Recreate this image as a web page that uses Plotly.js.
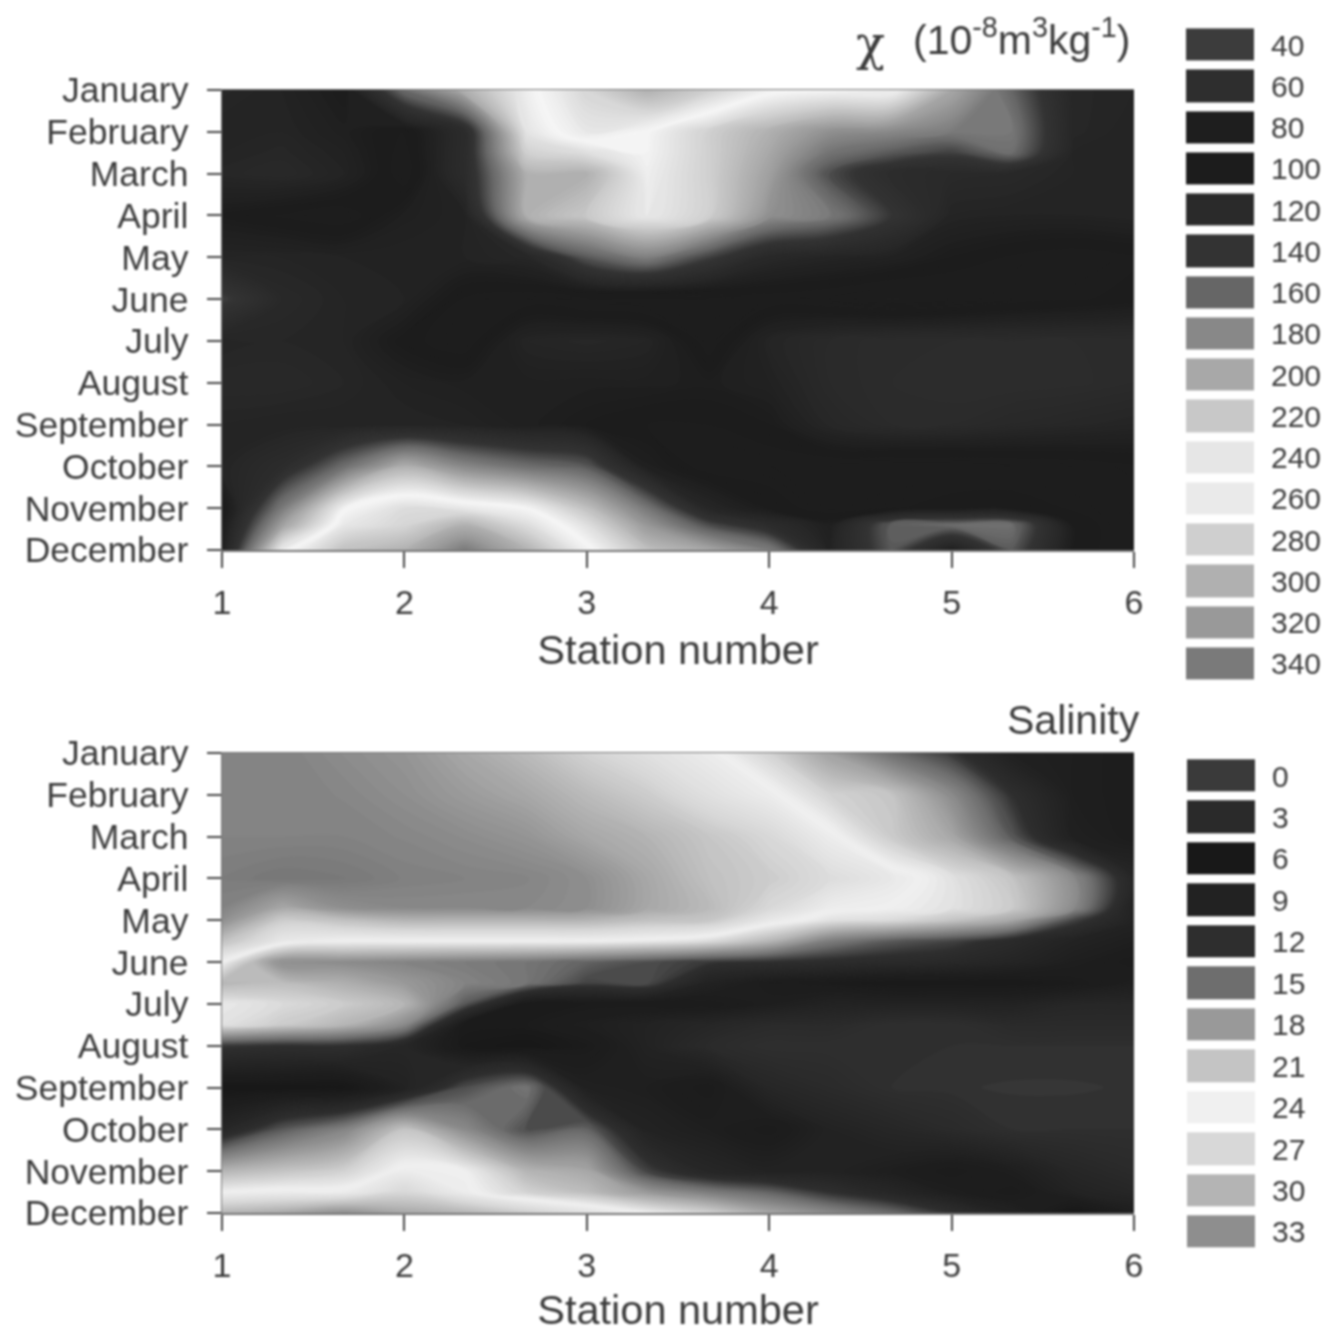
<!DOCTYPE html>
<html>
<head>
<meta charset="utf-8">
<script src="https://cdn.plot.ly/plotly-3.0.1.min.js"></script>
<style>
html,body{margin:0;padding:0;background:#fff;overflow:hidden}
#chart{width:1332px;height:1333px;filter:blur(0.8px)}
</style>
</head>
<body>
<div id="chart"></div>
<script>
const months = ['January','February','March','April','May','June','July','August','September','October','November','December'];
const monthPos = [0,1,2,3,4,5,6,7,8,9,10,11];
const stations = [1,1.33,1.67,2,2.33,2.67,3,3.33,3.67,4,4.33,4.67,5,5.33,5.67,6];

const chiY = [0,1,1.5,2,3,4,5,6,7,8,9,10,10.4,11];
const chiJan = [115,110,100,165,205,245,275,300,280,255,250,250,200,160,115,112];
const chiFeb = [110,112,105,95,125,238,262,250,225,205,185,180,172,170,115,110];
const chiFebB = [112,115,108,93,125,225,235,248,225,200,168,155,145,165,112,110];
const chiMar = [115,118,110,92,125,205,205,245,225,195,150,125,120,118,112,112];
const chiApr = [100,95,92,105,110,205,220,242,225,185,172,140,112,110,110,112];
const chiMay = [112,112,110,110,110,115,155,175,145,118,112,108,100,95,92,95];
const chiJun = [145,118,112,110,95,92,88,86,88,92,90,85,88,92,95,98];
const chiJul = [112,114,112,98,92,112,115,112,92,112,120,124,124,124,124,124];
const chiAug = [118,118,114,108,105,105,105,105,103,108,120,124,126,126,125,122];
const chiSep = [112,110,110,112,110,105,100,96,96,100,115,122,122,118,115,112];
const chiOct = [112,125,165,205,180,165,155,105,92,92,90,88,88,90,92,95];
const chiNov = [95,172,248,270,262,250,215,170,115,100,92,95,100,100,95,92];
const chiNovB = [100,195,262,275,300,270,235,190,150,125,105,158,165,165,100,90];
const chiDec = [105,245,290,300,340,300,255,215,200,175,110,155,105,155,100,90];
const chiZ = [chiJan,chiFeb,chiFebB,chiMar,chiApr,chiMay,chiJun,chiJul,chiAug,chiSep,chiOct,chiNov,chiNovB,chiDec];

const salY = [0,1,2,3,3.7,4,4.5,5,5.5,6,6.5,7,8,9,10,10.5,11];
const sal0 = [34,34,33.2,32.5,31,29.5,27.5,26,24.5,22,18.5,15,12.5,8.5,8,7.5];
const sal1 = [34,34,33.7,33,32,31,29.5,28,26,24.5,22,21,17,12,8,7.5];
const sal2 = [34,34,34,33.7,33.2,32.5,31,30,28.5,27,24.5,21.5,19,14,8.5,7.5];
const sal3 = [34.5,35,34.8,34.2,34,33.8,33,31,29,28,26.5,25,23,21,17,10];
const sal37 = [34,31,33,33.5,33.5,33.5,33,31,29.5,27,24.5,24,23,21.5,17,9];
const sal4 = [33,28,29,30,30,30,30,29,28.5,25,23,22.5,21,19,13,9];
const sal45 = [29,25,24,24,24,24,24,23.5,22.5,20,16,14,13,11,9,8];
const sal5 = [24,17,17,16.5,16,15.5,14.5,13.5,12.5,12,11.5,11,10.5,9.5,8,7];
const sal55 = [20,20.5,19.5,18,16.5,15.5,13,13.5,9,7.5,7,6.5,6.5,6.5,7,8];
const sal6 = [23.5,22.5,21.5,20,14,7,7,7,7,8,9,9,9,9,10,10];
const sal65 = [23,21.5,20,17,7,7,8,9,10,11,11,12,12,11,11,11];
const sal7 = [12.5,12,12,10,6.5,6,7,9,11,12,12,12,12,12,12,12];
const sal8 = [6,6,6,9,13.5,15.5,8.5,8,7,10,11,12,12.2,12.3,12.3,12.2];
const sal9 = [10,14,16.5,21,17,13.5,14.5,9,8,7,9,10,11,12,12,12];
const sal10 = [20,21,22,24.5,24,20,19,13,10,9,9,8,7,8,10,11];
const sal105 = [24,24.5,24.5,27,24.5,22,20.5,18,16,14.5,12,10,8,7,9,10];
const sal11 = [30,31,33,31,30,28,26,24,22,19,17,15,12,9,6,8];
const salZ = [sal0,sal1,sal2,sal3,sal37,sal4,sal45,sal5,sal55,sal6,sal65,sal7,sal8,sal9,sal10,sal105,sal11];

const chiLevels = [40,60,80,100,120,140,160,180,200,220,240,260,280,300,320,340];
const chiGrays = [60,46,30,28,42,51,102,136,168,200,230,234,207,176,153,122];
const chiPeakLevel = 250;
const chiPeakGray = 246;
const salLevels = [0,3,6,9,12,15,18,21,24,27,30,33];
const salGrays = [58,42,24,34,46,110,153,196,240,216,180,142];
const salExtraLevel = 36;
const salExtraGray = 106;

const gray = g => `rgb(${g},${g},${g})`;
const scale = (lv, gr, lo, hi) => lv.map((v,i) => [(v-lo)/(hi-lo), gray(gr[i])]);
const chiScale = scale(chiLevels, chiGrays, 40, 340);
chiScale.splice(chiLevels.indexOf(260), 0, [(chiPeakLevel-40)/300, gray(chiPeakGray)]);
const salScale = scale(salLevels.concat([salExtraLevel]), salGrays.concat([salExtraGray]), 0, 36);
const chiLegScale = scale(chiLevels, chiGrays, 40, 340);

const W = 1332, H = 1333;
const font = '"Liberation Sans", Arial, sans-serif';
const ink = '#3c3c3c';
const px = (a,b) => [a/W, b/W];
const py = (top,bot) => [1-bot/H, 1-top/H];

function contour(z, y, sc, lo, hi, size, xa, ya){
  return {type:'contour', x:stations, y:y, z:z, xaxis:xa, yaxis:ya, colorscale:sc, zmin:lo, zmax:hi, zauto:false,
    autocontour:false, contours:{start:lo, end:hi, size:size, coloring:'fill', showlines:false},
    line:{width:0}, showscale:false, hoverinfo:'skip'};
}
function swatches(lv, sc, lo, hi, xa, ya){
  return {type:'heatmap', x:[0], y:lv, z:lv.map(v=>[v]), xaxis:xa, yaxis:ya, colorscale:sc, zmin:lo, zmax:hi, zauto:false,
    ygap:9, showscale:false, hoverinfo:'skip'};
}
const data = [
  contour(chiZ, chiY, chiScale, 40, 340, 2, 'x', 'y'),
  contour(salZ, salY, salScale, 0, 36, 0.25, 'x2', 'y2'),
  swatches(chiLevels, chiLegScale, 40, 340, 'x3', 'y3'),
  swatches(salLevels, salScale, 0, 36, 'x4', 'y4')
];
function xAxis(dom, anchor){
  return {domain:dom, anchor:anchor, range:[1,6], tickvals:[1,2,3,4,5,6], ticks:'outside', ticklen:16, tickwidth:2, tickcolor:'#444',
    showline:true, mirror:true, linecolor:'#777', linewidth:1.5, showgrid:false, zeroline:false, ticklabelstandoff:6,
    tickfont:{family:font,size:34,color:ink},
    title:{text:'Station number', font:{family:font,size:41.5,color:ink}, standoff:14}};
}
function yAxis(dom, anchor){
  return {domain:dom, anchor:anchor, range:[11,0], tickvals:monthPos, ticktext:months, ticks:'outside', ticklen:14, tickwidth:2, tickcolor:'#444',
    showline:true, linecolor:'#777', linewidth:1.5, showgrid:false, zeroline:false, ticklabelstandoff:11,
    tickfont:{family:font,size:35.5,color:ink}};
}
function legX(dom, anchor){ return {domain:dom, anchor:anchor, range:[-0.5,0.5], visible:false}; }
function legY(dom, anchor, lv, step){
  return {domain:dom, anchor:anchor, side:'right', range:[lv[lv.length-1]+step/2, lv[0]-step/2], tickvals:lv, ticktext:lv.map(String),
    ticks:'outside', ticklen:10, tickcolor:'rgba(0,0,0,0)', showline:false, showgrid:false, zeroline:false,
    tickfont:{family:font,size:30,color:ink}};
}
const layout = {
  width:W, height:H, margin:{l:0,r:0,t:0,b:0}, paper_bgcolor:'#fff', plot_bgcolor:'#fff', showlegend:false,
  xaxis:xAxis(px(222,1134),'y'), yaxis:yAxis(py(90,550),'x'),
  xaxis2:xAxis(px(222,1134),'y2'), yaxis2:yAxis(py(753,1213),'x2'),
  xaxis3:legX(px(1186,1254),'y3'), yaxis3:legY(py(24.4,684.6),'x3',chiLevels,20),
  xaxis4:legX(px(1187,1255),'y4'), yaxis4:legY(py(755.3,1252.7),'x4',salLevels,3),
  annotations:[
    {xref:'paper',yref:'paper',x:1132/W,y:1-37/H,xanchor:'right',yanchor:'middle',showarrow:false,
     text:'(10<sup>-8</sup>m<sup>3</sup>kg<sup>-1</sup>)',font:{family:font,size:41,color:ink}},
    {xref:'paper',yref:'paper',x:870/W,y:1-43/H,xanchor:'center',yanchor:'middle',showarrow:false,
     text:'χ',font:{family:'"DejaVu Serif", serif',size:48,color:ink}},
    {xref:'paper',yref:'paper',x:1142/W,y:1-720/H,xanchor:'right',yanchor:'middle',showarrow:false,
     text:'Salinity',font:{family:font,size:41,color:ink}}
  ]
};
Plotly.newPlot('chart', data, layout, {staticPlot:true, displayModeBar:false});
</script>
</body>
</html>
